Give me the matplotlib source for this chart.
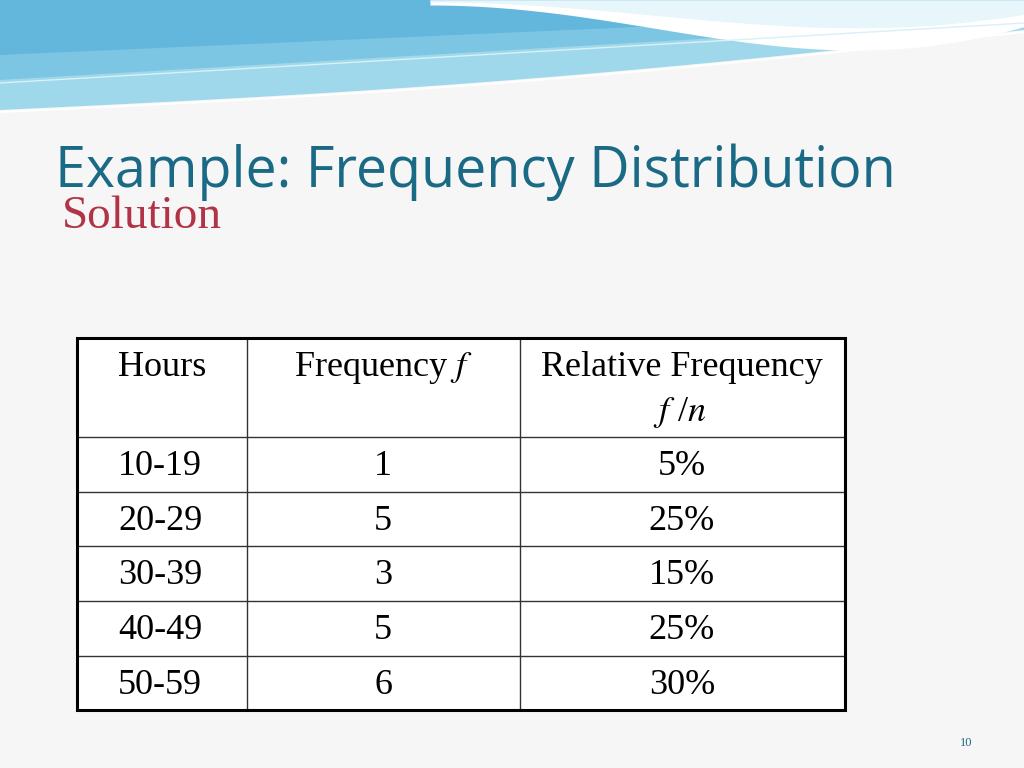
import matplotlib
matplotlib.use("Agg")
import matplotlib.pyplot as plt
import numpy as np
plt.rcParams["mathtext.fontset"] = "stix"

title = "Example: Frequency Distribution"
subtitle = "Solution"
headers = ["Hours", "Frequency $\\it{f}$", "Relative Frequency", "$\\it{f}$ /$\\it{n}$"]
hours = ["10-19", "20-29", "30-39", "40-49", "50-59"]
freq = [1, 5, 3, 5, 6]
rel = ["5%", "25%", "15%", "25%", "30%"]
page = "10"

fig = plt.figure(figsize=(10.24, 7.68), dpi=100)
fig.patch.set_facecolor("#f6f6f6")
ax = fig.add_axes([0, 0, 1, 1])
ax.set_xlim(0, 1024); ax.set_ylim(768, 0); ax.axis("off")

# decorative waves
x = np.linspace(0, 1024, 300)
t = x / 1024
c1 = 110 - 80*t + 10*np.sin(np.pi*t)
ax.fill_between(x, 0, c1, color="#9fd8ea", lw=0)
c2 = 80 - 60*t
ax.fill_between(x, 0, c2, color="#7cc6e3", lw=0)
c3 = 55 - 45*t
ax.fill_between(x, 0, c3, color="#63b7dc", lw=0)
wx = np.linspace(430, 1024, 200)
s = (wx - 430) / 594
ax.fill_between(wx, 0, 5 + 70*np.sin(np.pi*s*0.9)*s, color="#ffffff", lw=0)
ax.fill_between(wx, 0, 2 + 40*np.sin(np.pi*s*0.9)*s, color="#e6f6fb", lw=0)
ax.plot(x, c1 + 2, color="#ffffff", lw=1.5)
ax.plot(x, c2 + 3, color="#d8f0f8", lw=1)

ax.text(55, 172, title, fontsize=40, color="#1b6a85", family="Open Sans", va="center", ha="left")
ax.text(62, 217, subtitle, fontsize=34, color="#b23345", family="Liberation Serif", va="center")

cols = [77, 247, 520, 845]
rows = [338, 437, 492, 546, 601, 656, 710]
ax.add_patch(plt.Rectangle((77, 338), 768, 372, facecolor="white", edgecolor="none", zorder=1))
for xx in cols[1:-1]:
    ax.plot([xx, xx], [rows[0], rows[-1]], color="#333333", lw=1, zorder=2)
for yy in rows[1:-1]:
    ax.plot([cols[0], cols[-1]], [yy, yy], color="#333333", lw=1, zorder=2)
ax.add_patch(plt.Rectangle((77, 338), 768, 372, fill=False, edgecolor="black", lw=2.2, zorder=3))

fs = 26
ff = "Liberation Serif"
ax.text(162, 368, headers[0], fontsize=fs, family=ff, ha="center", va="center")
ax.text(383, 368, headers[1], fontsize=fs, family=ff, ha="center", va="center")
ax.text(682, 368, headers[2], fontsize=fs, family=ff, ha="center", va="center")
ax.text(680, 413, headers[3], fontsize=fs, family=ff, ha="center", va="center")
for i in range(len(hours)):
    yc = (rows[i+1] + rows[i+2]) / 2 + 2
    ax.text(118, yc, hours[i], fontsize=fs, family=ff, ha="left", va="center")
    ax.text(383, yc, str(freq[i]), fontsize=fs, family=ff, ha="center", va="center")
    ax.text(682, yc, rel[i], fontsize=fs, family=ff, ha="center", va="center")

ax.text(966, 743, page, fontsize=9, color="#1b6a85", family="Liberation Serif", ha="center", va="center")
fig.savefig("out.png", dpi=100, facecolor=fig.get_facecolor())
